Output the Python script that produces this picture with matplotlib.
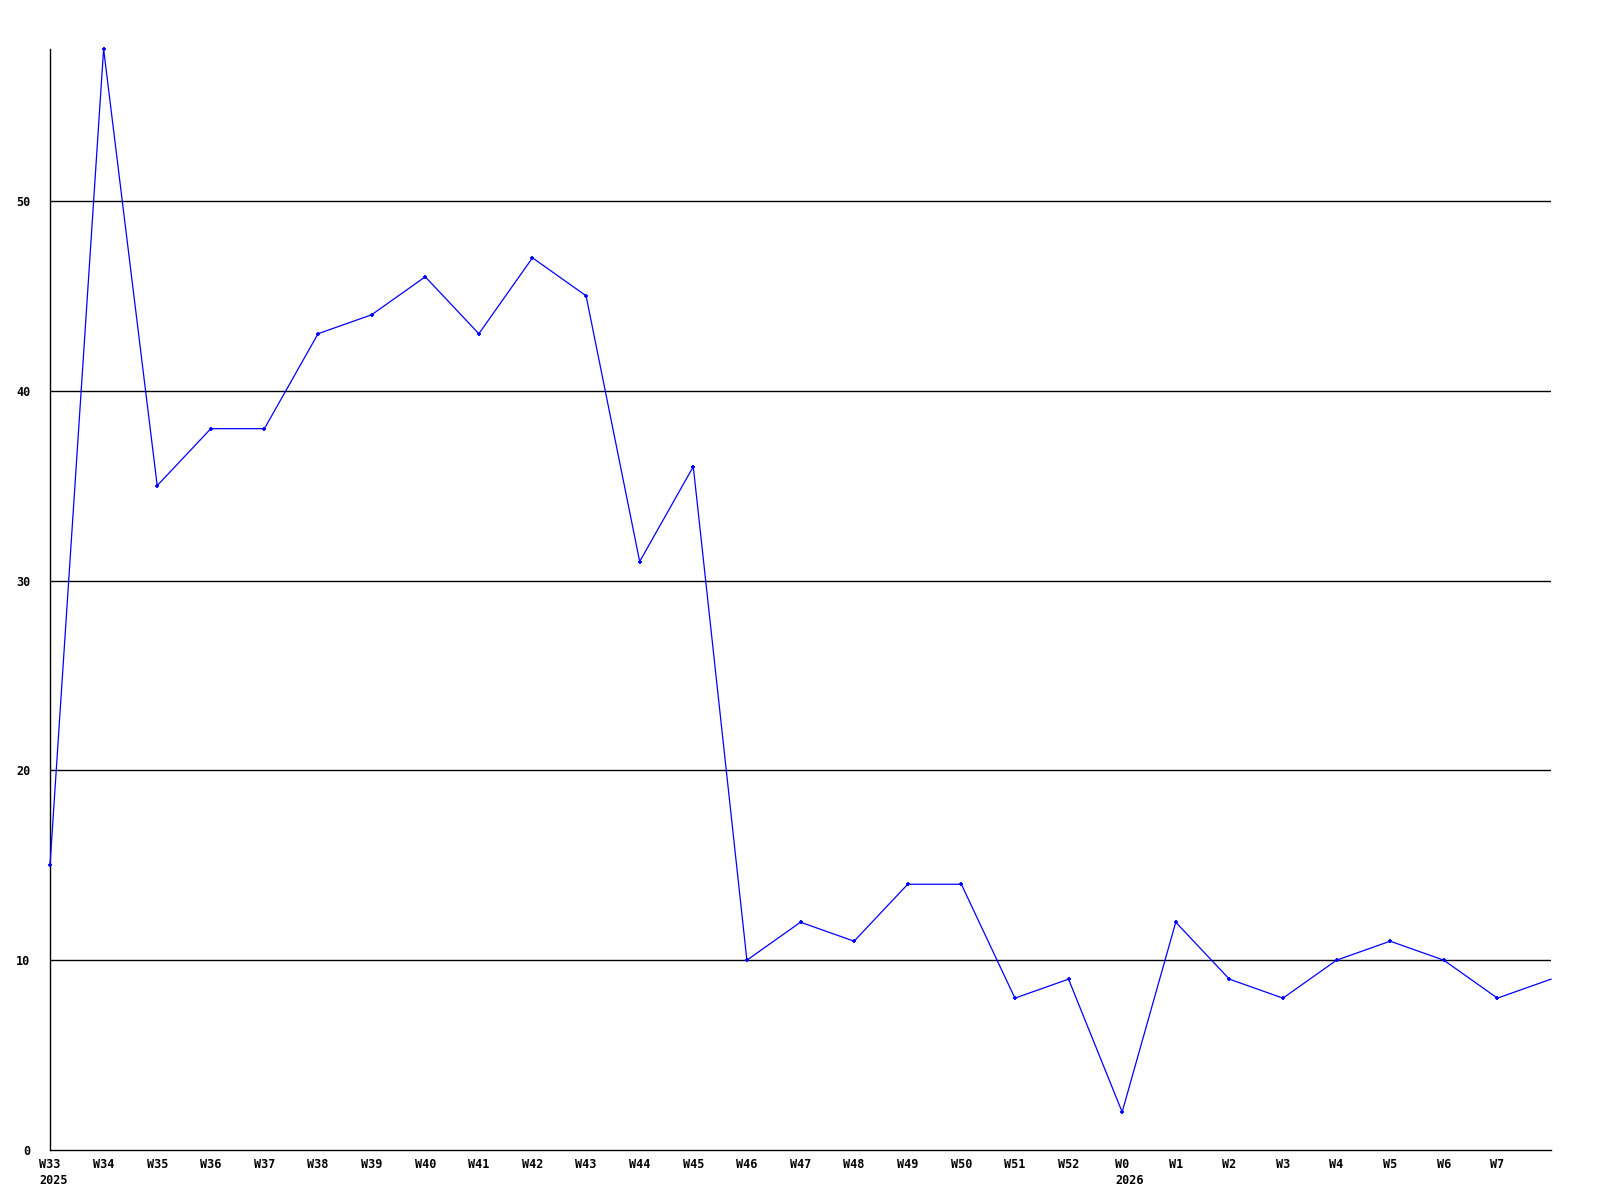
import matplotlib
matplotlib.use("Agg")
import matplotlib.pyplot as plt

# weekly values
weeks = ["W33", "W34", "W35", "W36", "W37", "W38", "W39", "W40", "W41", "W42",
         "W43", "W44", "W45", "W46", "W47", "W48", "W49", "W50", "W51", "W52",
         "W0", "W1", "W2", "W3", "W4", "W5", "W6", "W7", ""]
values = [15, 58, 35, 38, 38, 43, 44, 46, 43, 47,
          45, 31, 36, 10, 12, 11, 14, 14, 8, 9,
          2, 12, 9, 8, 10, 11, 10, 8, 9]
years = {0: "2025", 20: "2026"}
y_ticks = [0, 10, 20, 30, 40, 50]

plt.rcParams['font.family'] = ['DejaVu Sans Mono']

fig = plt.figure(figsize=(16, 12), dpi=100)
ax = fig.add_axes([50 / 1600, 50 / 1200, 1501 / 1600, 1101 / 1200])

x = list(range(len(values)))
ax.plot(x, values, color="#0000ff", lw=0.9, marker="+", ms=3.5, mew=1.3,
        markevery=list(range(len(values) - 1)), zorder=3, clip_on=False)

ax.set_xlim(0, len(values) - 1)
ax.set_ylim(0, 58)

for t in y_ticks[1:]:
    ax.axhline(t, color="black", lw=1, zorder=1)

ax.set_xticks(x)
ax.set_xticklabels(weeks, fontsize=8.5, fontweight="bold", va="top")
# year below the first week of each year, left aligned with the week label
for i, yr in years.items():
    ax.annotate(yr, xy=(i, 0), xycoords=("data", "axes fraction"),
                xytext=(-len(weeks[i]) * 2.55, -17), textcoords="offset points",
                ha="left", va="top", fontsize=8.5, fontweight="bold")
ax.set_yticks(y_ticks)
ax.set_yticklabels([str(t) for t in y_ticks], fontsize=8.5, fontweight="bold")
ax.tick_params(length=0, pad=6)
ax.tick_params(axis="y", pad=14)

for s in ["top", "right"]:
    ax.spines[s].set_visible(False)
ax.spines["left"].set_linewidth(1)
ax.spines["bottom"].set_linewidth(1)

fig.savefig("out.png", dpi=100)
